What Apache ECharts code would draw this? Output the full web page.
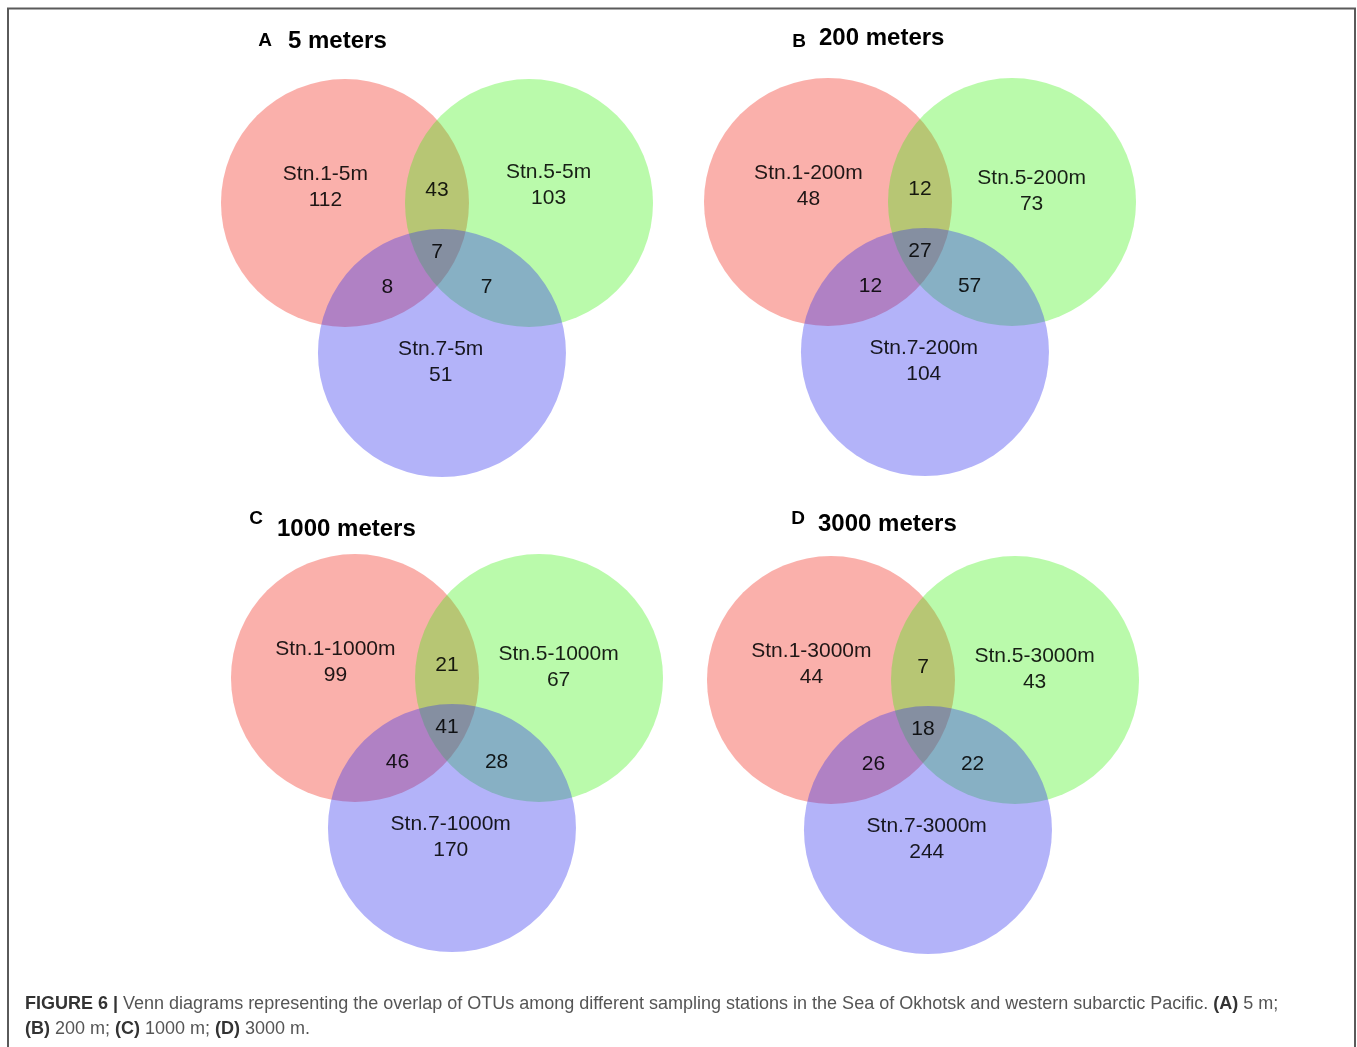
<!DOCTYPE html>
<html>
<head>
<meta charset="utf-8">
<title>Venn diagrams of shared OTUs by depth</title>
<script src="https://cdn.jsdelivr.net/npm/echarts@6/dist/echarts.min.js"></script>
<style>
  html, body { margin: 0; padding: 0; background: #fff; }
  #chart { width: 1357px; height: 1047px; }
</style>
</head>
<body>
<div id="chart"></div>
<script>
// ---- Data: OTU counts per Venn region, one entry per depth panel ----
const panelLetters = ['A', 'B', 'C', 'D'];
const panelTitles = ['5 meters', '200 meters', '1000 meters', '3000 meters'];
const station1Names = ['Stn.1-5m', 'Stn.1-200m', 'Stn.1-1000m', 'Stn.1-3000m'];
const station5Names = ['Stn.5-5m', 'Stn.5-200m', 'Stn.5-1000m', 'Stn.5-3000m'];
const station7Names = ['Stn.7-5m', 'Stn.7-200m', 'Stn.7-1000m', 'Stn.7-3000m'];
const only1 = [112, 48, 99, 44];
const only5 = [103, 73, 67, 43];
const only7 = [51, 104, 170, 244];
const shared1and5 = [43, 12, 21, 7];
const shared1and7 = [8, 12, 46, 26];
const shared5and7 = [7, 57, 28, 22];
const sharedAll = [7, 27, 41, 18];

// ---- Layout (pixels / unit coordinates where one unit = one circle radius) ----
const R = 124;
const PANEL_CENTERS = [[437, 203], [920, 202], [447, 678], [923, 680]];
const CIRCLE_POS = [[-0.742, 0], [0.742, 0], [0.04, -1.21]];
const CIRCLE_FILLS = ['rgba(240,28,14,0.35)', 'rgba(56,240,14,0.35)', 'rgba(50,50,240,0.37)'];
// anchors of the text blocks inside each region
const POS_ONLY1 = [-0.90, 0.131];
const POS_ONLY5 = [0.90, 0.086];
const POS_ONLY7 = [0.03, -1.28];
const POS_12 = [0, 0.10];
const POS_17 = [-0.40, -0.68];
const POS_57 = [0.40, -0.68];
const POS_ALL = [0, -0.40];
const ONLY5_SHIFT = [0.06, 0, 0, 0];

const LABEL_FONT = "21px 'Liberation Sans', Arial, sans-serif";
const LABEL_FILL = 'rgba(0,0,0,0.88)';

const grids = [], xAxes = [], yAxes = [], series = [];
PANEL_CENTERS.forEach(([cx, cy], i) => {
  grids.push({ left: cx - 2 * R, top: cy - 1.2 * R, width: 4 * R, height: 3.6 * R });
  xAxes.push({ type: 'value', gridIndex: i, min: -2, max: 2, show: false });
  yAxes.push({ type: 'value', gridIndex: i, min: -2.4, max: 1.2, show: false });

  // the three station circles
  series.push({
    type: 'custom',
    xAxisIndex: i, yAxisIndex: i,
    silent: true, clip: false,
    data: CIRCLE_POS.map((p, k) => [p[0], p[1], k]),
    renderItem: (params, api) => {
      const c = api.coord([api.value(0), api.value(1)]);
      const r = api.size([1, 0])[0];
      return {
        type: 'circle',
        shape: { cx: c[0], cy: c[1], r: r },
        style: { fill: CIRCLE_FILLS[api.value(2)] }
      };
    }
  });

  // region labels: station name + count, and shared counts
  const texts = [
    [POS_ONLY1[0], POS_ONLY1[1], station1Names[i] + '\n' + only1[i]],
    [POS_ONLY5[0], POS_ONLY5[1] + ONLY5_SHIFT[i], station5Names[i] + '\n' + only5[i]],
    [POS_ONLY7[0], POS_ONLY7[1], station7Names[i] + '\n' + only7[i]],
    [POS_12[0], POS_12[1], String(shared1and5[i])],
    [POS_17[0], POS_17[1], String(shared1and7[i])],
    [POS_57[0], POS_57[1], String(shared5and7[i])],
    [POS_ALL[0], POS_ALL[1], String(sharedAll[i])]
  ];
  series.push({
    type: 'custom',
    xAxisIndex: i, yAxisIndex: i,
    silent: true, clip: false, z: 5,
    data: texts,
    renderItem: (params, api) => {
      const c = api.coord([api.value(0), api.value(1)]);
      return {
        type: 'text',
        x: c[0], y: c[1],
        style: {
          text: texts[params.dataIndex][2],
          font: LABEL_FONT,
          fill: LABEL_FILL,
          lineHeight: 26,
          align: 'center', verticalAlign: 'middle',
          textAlign: 'center', textVerticalAlign: 'middle'
        }
      };
    }
  });
});

// ---- Panel headings ----
const LETTER_POS = [[265, 41], [799, 42], [256, 519], [798, 519]];
const TITLE_POS = [[288, 41], [819, 38], [277, 529], [818, 524]];
const graphics = [];
panelLetters.forEach((letter, i) => {
  graphics.push({
    type: 'text', x: LETTER_POS[i][0], y: LETTER_POS[i][1], silent: true,
    style: {
      text: letter, font: "bold 19px 'Liberation Sans', Arial, sans-serif", fill: '#000',
      align: 'center', verticalAlign: 'middle', textAlign: 'center', textVerticalAlign: 'middle'
    }
  });
  graphics.push({
    type: 'text', x: TITLE_POS[i][0], y: TITLE_POS[i][1], silent: true,
    style: {
      text: panelTitles[i], font: "bold 24px 'Liberation Sans', Arial, sans-serif", fill: '#000',
      align: 'left', verticalAlign: 'middle', textAlign: 'left', textVerticalAlign: 'middle'
    }
  });
});

// ---- Frame and caption ----
graphics.push({
  type: 'rect', silent: true,
  shape: { x: 8, y: 8.5, width: 1347, height: 1100 },
  style: { fill: 'none', stroke: '#5a5a5a', lineWidth: 2 }
});
const captionRich = {
  b: { font: "bold 18px 'Liberation Sans', Arial, sans-serif", fill: '#333' },
  n: { font: "18px 'Liberation Sans', Arial, sans-serif", fill: '#555' }
};
const captionLines = [
  '{b|FIGURE 6 |}{n| Venn diagrams representing the overlap of OTUs among different sampling stations in the Sea of Okhotsk and western subarctic Pacific. }{b|(A)}{n| 5 m;}',
  '{b|(B)}{n| 200 m; }{b|(C)}{n| 1000 m; }{b|(D)}{n| 3000 m.}'
];
[1004, 1029].forEach((y, k) => {
  graphics.push({
    type: 'text', x: 25, y: y, silent: true,
    style: {
      text: captionLines[k], rich: captionRich,
      align: 'left', verticalAlign: 'middle', textAlign: 'left', textVerticalAlign: 'middle'
    }
  });
});

const chart = echarts.init(document.getElementById('chart'), null, { renderer: 'canvas' });
chart.setOption({
  backgroundColor: '#ffffff',
  animation: false,
  grid: grids,
  xAxis: xAxes,
  yAxis: yAxes,
  series: series,
  graphic: graphics
});
</script>
</body>
</html>
